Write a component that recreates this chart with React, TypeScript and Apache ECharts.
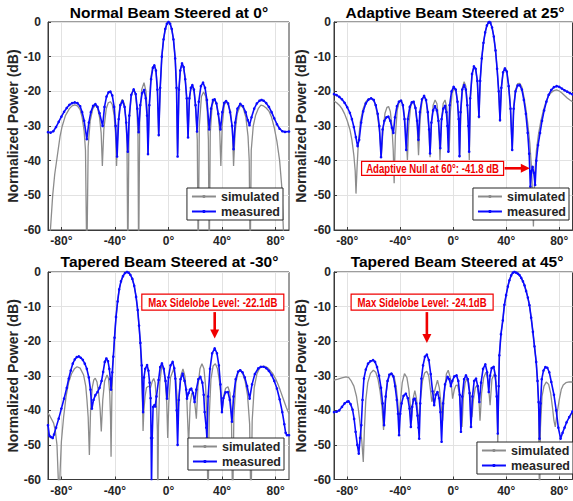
import React, { useEffect, useRef } from 'react';
import * as echarts from 'echarts';

type Pt = [number, number];

const FONT = '"Liberation Sans", Arial, Helvetica, sans-serif';
const BLUE = '#0a0aff';
const GREY = '#8c8c8c';
const AXIS = '#262626';
const RED = '#f00000';

const titles = [
  'Normal Beam Steered at 0°',
  'Adaptive Beam Steered at 25°',
  'Tapered Beam Steered at -30°',
  'Tapered Beam Steered at 45°',
];
const xTicks = [-80, -40, 0, 40, 80];
const yLabel = 'Normalized Power (dB)';
const legendNames = ['simulated', 'measured'];

const simulatedNormal0: Pt[] = [
  [-90, -80], [-88.2, -60], [-86.5, -50], [-85, -44], [-83, -38.5], [-81, -33], [-79.5, -30.2], [-77, -27], [-74, -25],
  [-72, -24.2], [-70, -23.9], [-68, -24.2], [-66, -25.3], [-64.5, -27.5], [-63, -31.5], [-62, -37], [-61, -70], [-60, -36],
  [-58.5, -28.5], [-56.5, -25], [-54.6, -24], [-53, -24.8], [-51.5, -27.5], [-50.3, -32], [-49.4, -41.5], [-48.3, -31],
  [-46.5, -25], [-45, -23.3], [-43.4, -23], [-42, -23.8], [-40.6, -27], [-39.6, -32], [-38.8, -41.5], [-37.8, -30],
  [-36.2, -23.8], [-34.5, -22.3], [-33, -23.5], [-31.8, -28], [-31, -35], [-30.4, -70], [-29.5, -30], [-28, -21.5],
  [-26.3, -19.5], [-24.8, -20.5], [-23.6, -25], [-22.8, -33], [-22.3, -70], [-21.5, -28], [-20, -19.5], [-18.3, -17.5],
  [-16.8, -20], [-15.9, -26], [-15.3, -38], [-14.5, -25], [-13.2, -16], [-11.8, -13], [-10.6, -12.5], [-9.4, -13.8],
  [-8.3, -19], [-7.3, -33], [-6.2, -19], [-5, -10], [-3.7, -5], [-2.4, -2], [-1.2, -0.5], [0, 0], [1.2, -0.5], [2.4, -2],
  [3.7, -5], [5, -10.5], [6, -19], [6.8, -38], [7.8, -19.5], [8.8, -13.8], [10.1, -12.1], [11.3, -13], [12.5, -16.5],
  [13.6, -22], [14.6, -33], [15.6, -22.5], [16.8, -19], [18, -18.6], [19.3, -20.5], [20.5, -26], [21.5, -34], [22.2, -70],
  [23, -30], [24.6, -21.5], [26.2, -20.2], [27.8, -21.5], [29, -26], [29.8, -34], [30.4, -70], [31.2, -32], [32.6, -24],
  [34.3, -22.2], [35.8, -23.5], [37.2, -27], [38.3, -32], [39.1, -41.5], [40.1, -30], [41.6, -24], [43.1, -23], [44.6, -23.5],
  [46.3, -26], [47.7, -31], [48.6, -41.5], [49.7, -32], [51.3, -26.5], [53.7, -24], [55.7, -24.7], [57.8, -27.5], [59.4, -33],
  [60.3, -40], [61, -70], [61.8, -37], [63.3, -30], [65, -27], [67, -25], [69, -24], [71, -24.2], [73, -24.8], [75, -25.7],
  [77, -27.5], [79, -30.5], [81, -34.5], [83, -40], [84.5, -47], [85.8, -60], [87, -75],
];

const measuredNormal0: Pt[] = [
  [-90, -31.8], [-88, -31.9], [-86, -31.5], [-84, -30.3], [-82, -28.8], [-80, -27.3], [-78, -25.9], [-76, -24.8], [-74, -23.9],
  [-72, -23.4], [-70, -23.2], [-68, -23.4], [-66, -24.3], [-64.5, -26], [-63, -28.5], [-61, -33.8], [-59.5, -29], [-58, -26],
  [-56.3, -24.2], [-54.6, -23.7], [-53, -24.5], [-51.5, -26.3], [-49.2, -30], [-47.8, -24.5], [-46.3, -21.5], [-44.8, -20.3],
  [-43.4, -20.1], [-42, -21.2], [-40.6, -24.5], [-39.5, -30], [-38.4, -38.8], [-37.2, -28], [-36, -24], [-34.3, -22.8],
  [-32.8, -24.5], [-31.6, -29], [-30.4, -37.4], [-29.3, -27], [-27.8, -21], [-26, -19.4], [-24.5, -20.8], [-23.3, -25],
  [-22.3, -31.8], [-21.1, -24], [-19.7, -20.5], [-18.2, -19.6], [-17, -22], [-16, -27], [-15.3, -38.1], [-14.3, -24],
  [-13, -16.5], [-11.7, -13.2], [-10.6, -12.5], [-9.4, -14], [-8.3, -19.5], [-7.3, -32.6], [-6.2, -19], [-5, -10], [-3.7, -5],
  [-2.4, -2], [-1.2, -0.5], [0, 0], [1.2, -0.5], [2.4, -2], [3.7, -5], [5, -10.5], [6, -19], [6.8, -38.8], [7.8, -19.5],
  [8.8, -14], [10.1, -11.9], [11.3, -13], [12.5, -16.5], [13.6, -22], [14.6, -33.3], [15.6, -22], [16.7, -19], [17.8, -18.2],
  [19, -19.5], [20.2, -24], [21.3, -31.6], [22.6, -23], [24.2, -18.5], [25.8, -17.5], [27.3, -19], [28.7, -22.5], [30.4, -31],
  [31.8, -25], [33.2, -22.5], [34.5, -22.3], [35.8, -23.5], [37.2, -26.5], [38.8, -31], [40.2, -26], [41.6, -23.3], [43, -22.8],
  [44.5, -23.5], [46, -26], [47.5, -30], [48.6, -36.7], [49.8, -29], [51.5, -25], [53.6, -23.6], [55.6, -24.3], [57.6, -26],
  [59.2, -28.3], [60.5, -29.8], [62, -27.5], [64, -25], [66, -23.5], [68, -22.7], [69.5, -22.5], [71, -22.7], [73, -23.4],
  [75, -24.5], [77, -26], [79, -27.8], [81, -29.5], [83, -30.8], [85, -31.5], [87, -31.7], [90, -31.6],
];

const simulatedAdaptive25: Pt[] = [
  [-90, -22.8], [-88, -23.3], [-86, -24], [-84, -25], [-82, -26.5], [-80, -28.5], [-78, -31], [-76.5, -34], [-75, -38.5],
  [-74, -43], [-73.4, -49.5], [-72.6, -42], [-71.5, -34], [-70, -28.5], [-68, -25], [-66, -23], [-64, -22.2], [-62, -22],
  [-60, -22.6], [-58.5, -24.3], [-57, -27.5], [-55.5, -32], [-54.3, -39], [-53, -31], [-51.5, -26.3], [-50, -24.6],
  [-48.8, -24.4], [-47.5, -25.8], [-46.3, -30], [-45.3, -37], [-44.6, -46.5], [-43.7, -33], [-42.3, -25.5], [-40.8, -23],
  [-39.4, -22.5], [-38, -23.8], [-36.6, -28], [-35.5, -33], [-34.6, -39.8], [-33.6, -30], [-32.2, -24.5], [-30.8, -23],
  [-29.6, -23.3], [-28.4, -25.3], [-27.2, -30], [-26.2, -38.4], [-25, -28], [-23.4, -22.3], [-21.9, -21.5], [-20.4, -22.8],
  [-19.2, -27], [-18.3, -32], [-17.5, -39], [-16.6, -30], [-15.2, -24], [-13.7, -22.5], [-12.3, -23.6], [-11.1, -28],
  [-10, -39.8], [-9, -29], [-7.6, -23.5], [-6.2, -22.5], [-5, -24.5], [-4, -29], [-3.1, -37.4], [-2.2, -26], [-0.8, -20.5],
  [0.7, -19.2], [2.2, -20], [3.4, -24], [4.3, -30], [4.9, -39], [5.7, -27], [6.9, -19], [8.2, -17.2], [9.5, -18.5],
  [10.6, -23], [11.5, -30], [12.1, -39.8], [12.9, -22.5], [14.2, -15.2], [15.6, -12.9], [16.9, -13.5], [18.2, -17.3],
  [19.4, -27.8], [20.3, -17], [21.5, -10.5], [22.8, -6], [24.1, -3], [25.4, -1], [26.7, -0.1], [27.3, 0], [28, -0.2],
  [29.3, -1.6], [30.6, -4.2], [31.9, -8.2], [33.1, -13.5], [34.3, -20], [35.3, -28.8], [36.3, -19.2], [37.6, -14.5],
  [39, -13.2], [40.4, -14], [41.8, -18], [43.2, -24.5], [44.5, -37], [45.6, -24.5], [47, -19.5], [48.6, -17.8], [50.2, -17.7],
  [51.8, -18.8], [53.3, -21.5], [54.8, -25], [56.3, -29.5], [57.8, -35], [59.2, -43], [60.5, -59], [61.5, -44], [62.8, -37],
  [64.3, -32.5], [66, -28.8], [68, -25.5], [70, -23], [72, -21.3], [74, -20.3], [76, -19.8], [78, -19.6], [80, -19.9],
  [82, -20.5], [84, -21.2], [86, -21.9], [88, -22.5], [90, -23],
];

const measuredAdaptive25: Pt[] = [
  [-90, -20.8], [-88, -21.1], [-86, -21.6], [-84, -22.3], [-82, -23.3], [-80, -24.6], [-78, -26.2], [-76.5, -28], [-75, -30.3],
  [-73.5, -33.2], [-72.2, -35.8], [-71, -34], [-69.5, -29], [-68, -25.8], [-66, -23.5], [-64, -22.4], [-62, -22], [-60, -22.5],
  [-58.5, -24], [-57, -26.5], [-55.8, -30], [-54.5, -39], [-53.3, -31], [-52, -28.5], [-50.5, -27.5], [-49, -27.3],
  [-47.5, -28.5], [-46.3, -30.5], [-45.2, -32], [-44, -27.5], [-42.5, -24.3], [-41, -23], [-39.4, -22.7], [-38, -24],
  [-36.8, -28], [-35.5, -36.9], [-34.3, -28], [-32.8, -24.5], [-31.3, -23.2], [-29.9, -23], [-28.5, -24.8], [-27.3, -28.5],
  [-26.3, -34], [-25.2, -26], [-23.6, -22.3], [-22, -21.3], [-20.5, -22.5], [-19.2, -26], [-18.2, -31], [-17.5, -37.9],
  [-16.5, -29], [-15.2, -25.5], [-13.8, -24.3], [-12.4, -25.5], [-11.2, -28.5], [-9.8, -36.4], [-8.8, -28], [-7.5, -25],
  [-6.2, -24.2], [-5.2, -26], [-4.4, -30], [-3.7, -37.4], [-2.7, -24], [-1.3, -20], [0.3, -18.7], [1.9, -19.5], [3.2, -23],
  [4.1, -28], [4.7, -38.7], [5.5, -26], [6.8, -19.5], [8.2, -18.2], [9.5, -19.5], [10.6, -24], [11.4, -30], [12, -37.4],
  [12.8, -22], [14.2, -15], [15.6, -12.8], [16.9, -13.5], [18.2, -17], [19.4, -27.3], [20.3, -17], [21.5, -10.5], [22.8, -6],
  [24.1, -3], [25.4, -1], [26.7, -0.1], [27.3, 0], [28, -0.2], [29.3, -1.6], [30.6, -4.2], [31.9, -8.2], [33.1, -13.5],
  [34.3, -20], [35.3, -28.3], [36.3, -19], [37.6, -14.5], [39, -13.4], [40.4, -14.3], [41.8, -18.5], [43.2, -25], [44.5, -36.9],
  [45.6, -25], [47, -20], [48.6, -18.3], [50.2, -18.2], [51.8, -19.5], [53.3, -22.5], [54.8, -26.5], [56.2, -32], [57.3, -38],
  [58.2, -47.5], [59, -43], [59.9, -41.8], [60.8, -43.5], [61.8, -47], [62.7, -40], [64, -35.5], [65.5, -32], [67, -28.5],
  [68.6, -25.5], [70.3, -23], [72, -21], [74, -19.6], [76, -18.8], [78, -18.5], [80, -18.7], [82, -19.2], [84, -19.7],
  [86, -20.1], [88, -20.5], [90, -20.9],
];

const simulatedTapered30: Pt[] = [
  [-90, -40.8], [-88.5, -41.7], [-87, -42.8], [-85.8, -43.7], [-84.5, -46], [-83.3, -50], [-82.3, -60], [-81.8, -70],
  [-81, -58], [-80, -49], [-78.3, -41.8], [-76.5, -36], [-74.6, -32], [-72.5, -29.5], [-70.3, -28], [-68.3, -27.4],
  [-66, -27.8], [-63.4, -29.8], [-61.8, -33], [-60.9, -37], [-60, -42], [-59.1, -52.9], [-58.2, -40], [-57, -33.5],
  [-55.8, -31.2], [-54.7, -30.7], [-53.4, -31.8], [-52.2, -35], [-51.1, -39.5], [-50.2, -46.1], [-49.1, -37], [-47.7, -31.5],
  [-45.9, -29.8], [-44.8, -30.8], [-43.9, -35], [-43.3, -42], [-42.9, -53.4], [-42.3, -36], [-41.6, -27], [-40.6, -20.5],
  [-39.4, -14], [-38.2, -9], [-37, -5.4], [-35.6, -2.9], [-34.1, -1.3], [-32.5, -0.3], [-31, 0], [-29.8, -0.2], [-28.5, -0.8],
  [-27, -2], [-25.6, -4], [-24.2, -7.2], [-23, -11], [-22, -15.5], [-21, -21], [-20.2, -28], [-19.4, -38], [-19, -46],
  [-18.4, -40], [-17.5, -36], [-16.5, -33.5], [-15, -33], [-13.5, -33.5], [-12, -31.5], [-11, -30.8], [-10, -32], [-9, -37],
  [-8.3, -46], [-8, -70], [-7.5, -45], [-6.5, -32], [-5, -27], [-3.6, -28], [-2.3, -32], [-1.3, -38], [-0.6, -48], [0.2, -38],
  [1.5, -30.5], [3.9, -28], [5.3, -30.5], [6.3, -35.5], [7, -42], [7.8, -36], [9.2, -30], [10.8, -28], [12.3, -30.2],
  [13.6, -36], [15, -50], [16.2, -38], [17.3, -35.3], [18.3, -34.7], [19.4, -37], [20.8, -42.4], [22, -33], [23.5, -28],
  [25, -26.5], [26.5, -28], [27.7, -33], [28.7, -42], [29.5, -70], [30.4, -42], [31.7, -31], [33.3, -27.2], [35, -26.5],
  [36.6, -28], [38, -31.5], [39.2, -36], [40, -40.5], [41.1, -36], [42.7, -33.6], [44.4, -33.2], [45.9, -35], [47, -41],
  [47.9, -70], [48.8, -42], [50.3, -32], [52, -29], [53.6, -28.4], [55.4, -29.3], [57.2, -31.5], [59, -35.5], [60.6, -44],
  [61.6, -70], [62.5, -43], [64, -33.5], [66, -29.5], [68, -27.8], [70, -27.3], [72, -27.3], [74, -27.7], [76, -28.5],
  [78, -29.5], [80, -30.9], [82, -32.7], [84, -34.8], [86, -37], [88, -39.2], [90, -41],
];

const measuredTapered30: Pt[] = [
  [-90, -44.3], [-89, -47.3], [-88, -47.7], [-86.5, -48], [-85.5, -47], [-84, -45], [-82, -42.4], [-80, -39.5], [-78, -36.6],
  [-76, -33.5], [-74.5, -30.8], [-73, -28.5], [-71.5, -26.5], [-70, -25.3], [-68.5, -24.6], [-67, -24.4], [-65.5, -24.8],
  [-64, -25.4], [-62.5, -26.5], [-61, -28], [-59.5, -30.5], [-58.3, -34], [-57.2, -39.5], [-56, -37], [-54.6, -35.6],
  [-53, -34.7], [-51.5, -33.5], [-50, -31.5], [-48.8, -28.9], [-47.6, -26], [-46.4, -25], [-45.2, -25.8], [-44.2, -28],
  [-43.4, -31], [-42.9, -34], [-42, -29], [-41.2, -24.5], [-40.3, -19], [-39.2, -13], [-38, -8.5], [-36.8, -5], [-35.5, -2.7],
  [-34, -1.2], [-32.5, -0.3], [-31, 0], [-29.8, -0.2], [-28.5, -0.8], [-27, -2], [-25.6, -4], [-24.2, -7.2], [-23, -11],
  [-22, -15.5], [-21, -20.5], [-20, -27], [-19, -40.5], [-18.3, -30.5], [-17.4, -28], [-16, -26.9], [-15, -28.5],
  [-14.1, -32], [-13.4, -36.5], [-13, -48], [-12.7, -62], [-12.2, -48], [-11.5, -39], [-10.5, -38.5], [-9.9, -38.9],
  [-9, -36], [-7.4, -31.2], [-6.2, -27.5], [-4.9, -26.4], [-3.5, -28], [-2.2, -31.5], [-1.1, -36.6], [0, -30.5], [1.5, -27],
  [3.1, -26], [4.3, -27.8], [5.1, -30.8], [6.1, -40], [6.8, -50], [7.7, -37], [9, -31], [10.6, -29.4], [12, -31.5],
  [13.2, -34], [13.8, -36.6], [15, -35], [16, -34], [17, -33.7], [18.3, -35], [19.5, -37.6], [20.8, -34], [22.3, -31],
  [23.8, -30.3], [25.3, -32], [26.3, -35.5], [27, -40.5], [28.2, -45], [28.7, -48], [29.6, -36], [31, -28], [32.6, -23.5],
  [34.5, -22.1], [36.2, -23.5], [37.6, -27], [38.8, -32.5], [39.9, -40.5], [41, -36.5], [42.6, -34.8], [44.4, -34.7],
  [45.8, -37], [47.4, -43.3], [48.6, -36], [50.2, -31], [52, -28.8], [53.6, -28.4], [55.3, -29], [57, -30.5], [58.7, -33],
  [60.6, -36.6], [62.4, -32.5], [64.5, -29.5], [67, -27.9], [69, -27.4], [71, -27.4], [73, -27.8], [75, -28.6], [77, -29.8],
  [79, -31.5], [81, -33.7], [83, -36.8], [85, -40.5], [86.5, -44], [87.5, -46.5], [88.5, -47.2], [90, -47.2],
];

const simulatedTapered45: Pt[] = [
  [-90, -31.3], [-87, -31], [-84, -30.6], [-81, -30.3], [-79, -30.5], [-77, -31.5], [-75, -33], [-73, -36], [-71.5, -40],
  [-70, -45], [-69, -49], [-67.9, -54.9], [-67, -45], [-66, -37], [-64.5, -32], [-62.5, -29.3], [-60.3, -28.4], [-58.5, -29],
  [-56.8, -31], [-55.2, -34.5], [-53.8, -39], [-52.6, -45.7], [-51.4, -38], [-49.8, -32], [-48, -29.8], [-46.2, -29.3],
  [-44.5, -30.5], [-43, -33.5], [-41.8, -38], [-40.9, -43.5], [-40, -38], [-38.5, -32], [-36.8, -29.4], [-35, -30.5],
  [-33.5, -34], [-32.3, -39], [-31.5, -43], [-30.5, -37], [-29, -34.3], [-27.8, -36.5], [-26.6, -41], [-25.8, -43.5],
  [-24.8, -37], [-23.2, -31.5], [-21.6, -29.2], [-20, -28.7], [-18.5, -30], [-17.2, -34], [-16.2, -37.5], [-15, -36],
  [-13.5, -33.5], [-11.9, -31.3], [-10.5, -33.5], [-9.2, -38.5], [-8, -43], [-6.8, -35], [-5.2, -29.5], [-3.8, -28.4],
  [-2.3, -30.5], [-1.2, -33.5], [-0.5, -36.6], [0.8, -34], [2, -32.8], [3.3, -32.7], [4.5, -35], [5.6, -39.5], [6.6, -44.8],
  [7.7, -36], [9, -32], [10.3, -30.8], [11.7, -32], [13, -36.5], [14.1, -42], [15.2, -37], [16.6, -33.5], [18, -32.7],
  [19.2, -35.5], [20.2, -43], [21.4, -35], [23, -30.5], [24.7, -29], [26.2, -31.2], [27.8, -38.5], [29.2, -31], [31, -29.4],
  [32.3, -32], [33.2, -38], [33.6, -50], [34.3, -33], [34.8, -24.1], [36, -18], [37.4, -14], [38.6, -9.5], [39.9, -6.7],
  [41.2, -4.2], [42.4, -2.4], [43.7, -1], [45, -0.2], [46.2, 0], [47.5, -0.2], [48.8, -0.5], [50, -0.9], [51.3, -1.7],
  [52.6, -2.7], [53.8, -3.9], [55, -5.5], [56.3, -7.4], [57.5, -9.6], [58.8, -13.2], [60.1, -17.3], [61.3, -21.5],
  [62.6, -26], [63.6, -31.5], [64.4, -38], [65.1, -70], [65.8, -45], [67, -36], [68.5, -33], [70.2, -31.8], [72, -32.5],
  [73.5, -35], [75, -39.5], [76, -43], [77, -44.8], [78.3, -41], [80, -37], [81.5, -34], [83, -32.7], [85, -32],
  [87.5, -31.8], [90, -31.8],
];

const measuredTapered45: Pt[] = [
  [-90, -40.5], [-88, -40.4], [-86, -40], [-84, -39], [-82, -38], [-80, -37.5], [-79, -37.4], [-77.5, -38.2], [-76, -39.8],
  [-74.8, -42.5], [-73.7, -46.2], [-72.4, -50], [-71.3, -52.5], [-70.3, -48], [-69.4, -44.3], [-68.5, -37], [-67.4, -30.8],
  [-66, -28.2], [-64.3, -26.5], [-62.5, -25.8], [-60.5, -25.5], [-59, -26], [-57.5, -27.5], [-56, -30], [-54.5, -33.5],
  [-53.3, -38], [-52.2, -44.3], [-51, -36], [-49.6, -31.5], [-48.2, -29.7], [-46.7, -29.4], [-45.2, -30.2], [-43.9, -33],
  [-42.6, -37], [-41.7, -41], [-40.9, -47.2], [-40, -41], [-39, -38], [-37.5, -35.8], [-35.8, -35.2], [-34.3, -36.5],
  [-33, -39.5], [-32, -44.8], [-31, -39], [-29.9, -36.8], [-29, -36.6], [-28, -38], [-27, -41.5], [-26.2, -45],
  [-25.7, -48.2], [-24.9, -38], [-24, -30.8], [-22.8, -27], [-21.4, -24.5], [-19.9, -23.9], [-18.4, -25.5], [-17, -29.5],
  [-15.6, -34.5], [-14.4, -38.5], [-13.2, -35.5], [-11.9, -34.7], [-10.7, -36.5], [-9.7, -40.5], [-8.8, -49.1], [-7.7, -38],
  [-6.2, -32.5], [-4.3, -30.3], [-3, -31], [-1.8, -33], [-0.7, -31.5], [0.8, -30.2], [2.5, -29.9], [3.8, -31.5], [4.9, -35.5],
  [5.8, -46.2], [6.8, -36], [8.2, -31], [9.6, -29.9], [11, -31], [12.3, -35], [13.4, -44.8], [14.5, -36], [15.8, -31.5],
  [17.2, -30.8], [18.5, -33], [19.7, -37.6], [21, -32], [22.5, -28], [24.2, -26.7], [25.6, -29], [26.8, -34.7], [27.8, -30],
  [29, -27.8], [30.5, -27.4], [31.8, -30], [32.8, -36], [33.6, -46.7], [34.3, -33], [34.8, -24.1], [36, -18], [37.4, -14],
  [38.6, -9.5], [39.9, -6.7], [41.2, -4.2], [42.4, -2.4], [43.7, -1], [45, -0.2], [46.2, 0], [47.5, -0.2], [48.8, -0.5],
  [50, -0.9], [51.3, -1.7], [52.6, -2.7], [53.8, -3.9], [55, -5.5], [56.3, -7.4], [57.5, -9.6], [58.8, -13.2], [60.1, -17.3],
  [61.3, -21.5], [62.6, -26], [63.6, -31.5], [64.4, -37.6], [65.1, -48.2], [65.9, -38], [66.8, -31], [68.1, -28.5],
  [69.5, -27.5], [71, -27.7], [72.5, -29], [74, -31.8], [76, -35.5], [77.7, -40], [79.3, -45], [81, -48.2], [82.5, -46.5],
  [84, -45], [85.5, -43.5], [87.5, -42], [90, -40.3],
];

const simulatedSets = [simulatedNormal0, simulatedAdaptive25, simulatedTapered30, simulatedTapered45];
const measuredSets = [measuredNormal0, measuredAdaptive25, measuredTapered30, measuredTapered45];

// annotation anchors in data coordinates
const annotationTexts = ['Adaptive Null at 60°: -41.8 dB', 'Max Sidelobe Level: -22.1dB', 'Max Sidelobe Level: -24.1dB'];
const annotationGrids = [1, 2, 3];
const annotationBoxes: Pt[] = [[-15.6, -42.2], [33.1, -8.7], [-23.5, -8.7]];
const annotationTips: Pt[] = [[57.8, -42.2], [34.5, -19.2], [-19.9, -20.5]];
const annotationDirs = ['right', 'down', 'down'];

const gridBoxes = [
  { left: 48, top: 22, width: 241, height: 208 },
  { left: 334, top: 22, width: 238.5, height: 208 },
  { left: 48, top: 272, width: 241, height: 207.5 },
  { left: 334, top: 272, width: 238.5, height: 207.5 },
];
const titlePos = [
  { x: 169, y: 4 },
  { x: 455, y: 4 },
  { x: 169.5, y: 253 },
  { x: 457, y: 253 },
];
const legendPos = [
  { right: 290, top: 188 },
  { right: 4, top: 188 },
  { right: 289, top: 438 },
  { right: 0, top: 442 },
];
const yLabelMargin = [7, 3, 7, 3];

export default function App() {
  const ref = useRef<HTMLDivElement>(null);

  useEffect(() => {
    if (!ref.current) return;
    const chart = echarts.init(ref.current, null, { renderer: 'svg' });

    const option: any = {
      animation: false,
      backgroundColor: '#ffffff',
      title: titles.map((t, i) => ({
        text: t,
        left: titlePos[i].x,
        top: titlePos[i].y,
        textAlign: 'center',
        padding: 0,
        textStyle: { fontFamily: FONT, fontWeight: 'bold', fontSize: 15.5, color: '#000' },
      })),
      grid: gridBoxes.map((g) => ({
        ...g,
        show: true,
        borderColor: '#3a3a3a',
        borderWidth: 1,
        backgroundColor: '#fff',
        containLabel: false,
      })),
      xAxis: gridBoxes.map((_, i) => ({
        gridIndex: i,
        type: 'value',
        min: -90,
        max: 90,
        axisLine: { show: true, onZero: false, lineStyle: { color: '#3a3a3a', width: 1 } },
        axisTick: { show: true, inside: true, length: 3, customValues: xTicks, lineStyle: { color: '#3a3a3a' } },
        axisLabel: {
          customValues: xTicks,
          formatter: (v: number) => `${v}°`,
          color: AXIS,
          fontFamily: FONT,
          fontWeight: 'bold',
          fontSize: 12,
          margin: 5,
        },
        splitLine: { show: true, lineStyle: { color: '#e2e2e2', width: 1 } },
      })),
      yAxis: gridBoxes.map((_, i) => ({
        gridIndex: i,
        type: 'value',
        min: -60,
        max: 0,
        interval: 10,
        name: yLabel,
        nameLocation: 'middle',
        nameGap: i % 2 === 0 ? 25 : 26,
        nameTextStyle: { fontFamily: FONT, fontWeight: 'bold', fontSize: 14, color: AXIS },
        axisLine: { show: true, onZero: false, lineStyle: { color: '#3a3a3a', width: 1 } },
        axisTick: { show: true, inside: true, length: 3, lineStyle: { color: '#3a3a3a' } },
        axisLabel: {
          color: AXIS,
          fontFamily: FONT,
          fontWeight: 'bold',
          fontSize: 12,
          margin: yLabelMargin[i],
        },
        splitLine: { show: true, lineStyle: { color: '#e2e2e2', width: 1 } },
      })),
      legend: legendPos.map((p) => ({
        orient: 'vertical',
        right: p.right,
        top: p.top,
        backgroundColor: '#fff',
        borderColor: '#262626',
        borderWidth: 1,
        borderRadius: 0,
        padding: [2, 3, 2, 4],
        itemGap: 2,
        itemWidth: 24,
        itemHeight: 4,
        selectedMode: false,
        textStyle: { fontFamily: FONT, fontSize: 12.5, fontWeight: 'bold', color: '#262626' },
        data: legendNames,
      })),
      series: [
        ...simulatedSets.map((d, i) => ({
          type: 'line',
          name: legendNames[0],
          xAxisIndex: i,
          yAxisIndex: i,
          data: d,
          symbol: 'none',
          showSymbol: false,
          lineStyle: { color: GREY, width: 1.3 },
          itemStyle: { color: GREY },
          z: 2,
        })),
        ...measuredSets.map((d, i) => ({
          type: 'line',
          name: legendNames[1],
          xAxisIndex: i,
          yAxisIndex: i,
          data: d,
          symbol: 'circle',
          symbolSize: 2.6,
          showSymbol: true,
          showAllSymbol: true,
          lineStyle: { color: BLUE, width: 1.6 },
          itemStyle: { color: BLUE },
          z: 3,
        })),
      ],
    };

    chart.setOption(option);

    const graphics: any[] = [];
    annotationTexts.forEach((text, k) => {
      const gi = annotationGrids[k];
      const [bx, by] = chart.convertToPixel({ gridIndex: gi }, annotationBoxes[k]) as number[];
      const [tx, ty] = chart.convertToPixel({ gridIndex: gi }, annotationTips[k]) as number[];
      const w = 142;
      const h = annotationDirs[k] === 'right' ? 14 : 16;
      graphics.push({
        type: 'rect',
        shape: { x: bx - w / 2, y: by - h / 2, width: w, height: h },
        style: { fill: '#fff', stroke: RED, lineWidth: 1.2 },
        z: 100,
      });
      graphics.push({
        type: 'text',
        x: bx,
        y: by + 0.5,
        scaleX: 0.8,
        style: {
          text,
          fill: RED,
          fontFamily: FONT,
          fontWeight: 'bold',
          fontSize: 12,
          align: 'center',
          verticalAlign: 'middle',
          textAlign: 'center',
          textVerticalAlign: 'middle',
        },
        z: 101,
      });
      const head = 9;
      if (annotationDirs[k] === 'right') {
        const sx = bx + w / 2 + 1;
        graphics.push({
          type: 'line',
          shape: { x1: sx, y1: by, x2: tx - head + 1, y2: by },
          style: { stroke: RED, lineWidth: 2.6 },
          z: 100,
        });
        graphics.push({
          type: 'polygon',
          shape: { points: [[tx, by], [tx - head, by - 4.5], [tx - head, by + 4.5]] },
          style: { fill: RED },
          z: 100,
        });
      } else {
        const sy = by + h / 2 + 2;
        graphics.push({
          type: 'line',
          shape: { x1: tx, y1: sy, x2: tx, y2: ty - head + 1 },
          style: { stroke: RED, lineWidth: 2.6 },
          z: 100,
        });
        graphics.push({
          type: 'polygon',
          shape: { points: [[tx, ty], [tx - 4.5, ty - head], [tx + 4.5, ty - head]] },
          style: { fill: RED },
          z: 100,
        });
      }
    });
    chart.setOption({ graphic: graphics });

    return () => chart.dispose();
  }, []);

  return (
    <div
      ref={ref}
      style={{ position: 'absolute', left: 0, top: 0, width: 573, height: 501, background: '#fff' }}
    />
  );
}
